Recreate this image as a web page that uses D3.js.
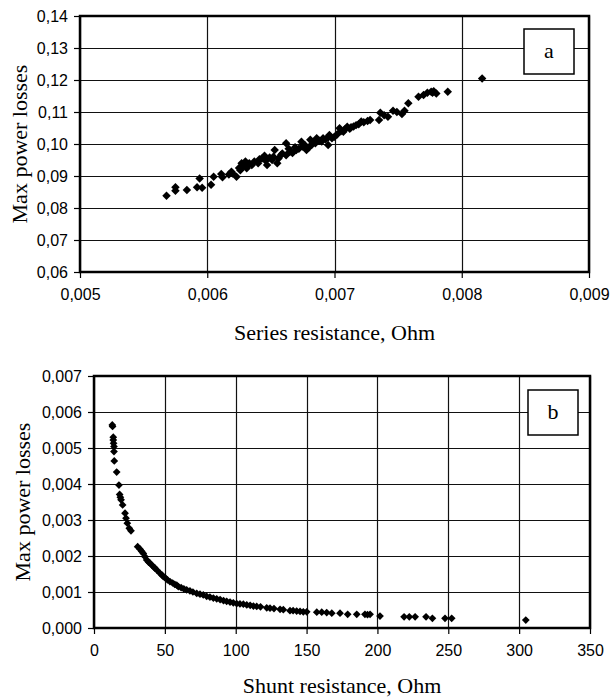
<!DOCTYPE html>
<html>
<head>
<meta charset="utf-8">
<script src="https://cdn.jsdelivr.net/npm/d3@7"></script>
<style>
  body { margin: 0; background: #fff; }
  .tick text { font-family: 'Liberation Sans', Arial, sans-serif; font-size: 16px; fill: #000; }
  .title { font-family: 'Liberation Serif', 'Times New Roman', serif; font-size: 22px; fill: #000; }
</style>
</head>
<body>
<svg id="container" width="611" height="697"></svg>
<script>
// panel a: series resistance vs max power losses
const seriesR = [
  0.00568, 0.00575, 0.00575, 0.00584, 0.00592, 0.00594, 0.00596, 0.00603, 0.00605, 0.00611,
  0.00612, 0.00617, 0.00619, 0.00620, 0.00623, 0.00625, 0.00626, 0.00627, 0.00628, 0.00630,
  0.00631, 0.00632, 0.00633, 0.00635, 0.00637, 0.00640, 0.00641, 0.00643, 0.00645, 0.00646,
  0.00647, 0.00649, 0.00651, 0.00652, 0.00653, 0.00655, 0.00656, 0.00658, 0.00659, 0.00662,
  0.00662, 0.00664, 0.00665, 0.00667, 0.00669, 0.00670, 0.00672, 0.00674, 0.00675, 0.00677,
  0.00678, 0.00680, 0.00681, 0.00682, 0.00683, 0.00685, 0.00686, 0.00688, 0.00690, 0.00691,
  0.00693, 0.00695, 0.00695, 0.00696, 0.00698, 0.00700, 0.00702, 0.00704, 0.00705, 0.00707,
  0.00708, 0.00710, 0.00712, 0.00713, 0.00715, 0.00717, 0.00719, 0.00721, 0.00723, 0.00726,
  0.00728, 0.00735, 0.00736, 0.00739, 0.00742, 0.00746, 0.00749, 0.00753, 0.00755, 0.00758,
  0.00766, 0.00770, 0.00773, 0.00776, 0.00777, 0.00778, 0.00780, 0.00789, 0.00816
]
const seriesLoss = [
  0.0838, 0.0865, 0.0854, 0.0856, 0.0865, 0.0892, 0.0863, 0.0873, 0.0898, 0.0906,
  0.0896, 0.0905, 0.0913, 0.0908, 0.0898, 0.0925, 0.0918, 0.0940, 0.0930, 0.0945,
  0.0924, 0.0934, 0.0940, 0.0934, 0.0945, 0.0940, 0.0952, 0.0955, 0.0963, 0.0948,
  0.0934, 0.0958, 0.0950, 0.0960, 0.0981, 0.0940, 0.0955, 0.0966, 0.0970, 0.1002,
  0.0965, 0.0985, 0.0976, 0.0972, 0.0990, 0.0981, 0.0985, 0.1007, 0.0992, 0.0995,
  0.0981, 0.0990, 0.1013, 0.0997, 0.1005, 0.1002, 0.1018, 0.1010, 0.1008, 0.1018,
  0.1015, 0.0997, 0.1020, 0.1028, 0.1018, 0.1023, 0.1030, 0.1049, 0.1040, 0.1038,
  0.1045, 0.1054, 0.1048, 0.1052, 0.1055, 0.1059, 0.1062, 0.1070, 0.1068, 0.1072,
  0.1075, 0.1075, 0.1098, 0.1090, 0.1085, 0.1104, 0.1100, 0.1094, 0.1104, 0.1127,
  0.1148, 0.1153, 0.1160, 0.1163, 0.1160, 0.1165, 0.1158, 0.1163, 0.1205
]
const seriesXTicks = [0.005, 0.006, 0.007, 0.008, 0.009]
const seriesYTicks = [0.06, 0.07, 0.08, 0.09, 0.10, 0.11, 0.12, 0.13, 0.14]

// panel b: shunt resistance vs max power losses
const shuntR = [
  12.9, 13.1, 13.6, 13.6, 13.8, 14.1, 14.1, 14.3, 16.0, 17.6,
  18.1, 18.6, 19.1, 20.2, 21.9, 22.6, 23.5, 24.9, 26.1, 30.8,
  32.5, 33.6, 34.8, 36.0, 37.2, 38.5, 39.5, 40.7, 42.0, 43.0,
  44.6, 46.6, 48.0, 48.9, 50.1, 51.8, 53.6, 55.5, 57.0, 58.4,
  59.5, 61.5, 63.4, 65.4, 67.7, 69.8, 72.5, 74.8, 77.1, 79.5,
  81.8, 84.2, 86.6, 89.0, 91.4, 93.6, 96.0, 98.3, 100.7, 103.0,
  105.4, 107.8, 110.2, 112.5, 114.8, 117.5, 121.9, 124.2, 127.0, 131.3,
  133.6, 138.3, 140.5, 143.0, 145.4, 147.7, 150.1, 157.2, 160.7, 164.2,
  167.8, 173.6, 179.0, 185.4, 191.2, 193.0, 194.8, 201.8, 218.8, 222.5,
  226.6, 234.3, 238.8, 247.7, 252.4, 304.7
]
const shuntLoss = [
  0.00564, 0.00560, 0.00530, 0.00522, 0.00513, 0.00504, 0.00490, 0.00464, 0.00433, 0.00397,
  0.00371, 0.00363, 0.00356, 0.00342, 0.00319, 0.00305, 0.00291, 0.00277, 0.00270, 0.00226,
  0.00219, 0.00213, 0.00207, 0.00198, 0.00189, 0.00183, 0.00180, 0.00175, 0.00170, 0.00166,
  0.00160, 0.00152, 0.00147, 0.00143, 0.00140, 0.00134, 0.00129, 0.00125, 0.00121, 0.00119,
  0.00115, 0.00112, 0.00109, 0.00106, 0.00103, 0.00100, 0.00096, 0.00094, 0.00092, 0.00088,
  0.00086, 0.00083, 0.00081, 0.00079, 0.00076, 0.00074, 0.00072, 0.00070, 0.00068, 0.00067,
  0.00066, 0.00064, 0.00063, 0.00061, 0.00060, 0.00059, 0.00056, 0.00055, 0.00054, 0.00052,
  0.00051, 0.00048, 0.00048, 0.00047, 0.00046, 0.00045, 0.00045, 0.00044, 0.00044, 0.00043,
  0.00041, 0.00041, 0.00038, 0.00038, 0.00038, 0.00037, 0.00038, 0.00033, 0.00031, 0.00031,
  0.00031, 0.00031, 0.00027, 0.00027, 0.00027, 0.00022
]
const shuntXTicks = [0, 50, 100, 150, 200, 250, 300, 350]
const shuntYTicks = [0, 0.001, 0.002, 0.003, 0.004, 0.005, 0.006, 0.007]

const svg = d3.select('#container')
const comma = (fmt) => (d) => d3.format(fmt)(d).replace('.', ',')

function drawPanel(opts) {
  const { left, right, top, bottom } = opts.box
  const x = d3.scaleLinear().domain(opts.xDomain).range([left, right])
  const y = d3.scaleLinear().domain(opts.yDomain).range([bottom, top])
  const g = svg.append('g')

  // grid
  g.append('g')
    .selectAll('line.vx')
    .data(opts.xTicks)
    .enter()
    .append('line')
    .attr('x1', (d) => Math.round(x(d)) + 0.5)
    .attr('x2', (d) => Math.round(x(d)) + 0.5)
    .attr('y1', top)
    .attr('y2', bottom)
    .attr('stroke', '#111')
    .attr('stroke-width', 1.2)
  g.append('g')
    .selectAll('line.hy')
    .data(opts.yTicks)
    .enter()
    .append('line')
    .attr('x1', left)
    .attr('x2', right)
    .attr('y1', (d) => Math.round(y(d)) + 0.5)
    .attr('y2', (d) => Math.round(y(d)) + 0.5)
    .attr('stroke', '#111')
    .attr('stroke-width', 1.2)

  // axes
  g.append('g')
    .attr('transform', `translate(0,${bottom})`)
    .call(
      d3.axisBottom(x).tickValues(opts.xTicks).tickFormat(opts.xFormat)
        .tickSize(6).tickPadding(opts.xPad).tickSizeOuter(0)
    )
  g.append('g')
    .attr('transform', `translate(${left},0)`)
    .call(
      d3.axisLeft(y).tickValues(opts.yTicks).tickFormat(opts.yFormat)
        .tickSize(6).tickPadding(opts.yPad).tickSizeOuter(0)
    )
  g.selectAll('.domain').remove()
  g.selectAll('.tick line').attr('stroke', '#000').attr('stroke-width', 1.2)

  // frame
  g.append('rect')
    .attr('x', left)
    .attr('y', top)
    .attr('width', right - left)
    .attr('height', bottom - top)
    .attr('fill', 'none')
    .attr('stroke', '#000')
    .attr('stroke-width', 2.5)

  // points
  const diamond = d3.symbol(d3.symbolSquare, opts.markSize)
  g.append('g')
    .selectAll('path')
    .data(opts.xs.map((v, i) => [v, opts.ys[i]]))
    .enter()
    .append('path')
    .attr('d', diamond)
    .attr('transform', (d) => `translate(${x(d[0])},${y(d[1])}) rotate(45)`)
    .attr('fill', '#000')

  // label box
  g.append('rect')
    .attr('x', opts.label.x)
    .attr('y', opts.label.y)
    .attr('width', 50)
    .attr('height', 45)
    .attr('fill', '#fff')
    .attr('stroke', '#000')
    .attr('stroke-width', 1.5)
  g.append('text')
    .attr('class', 'title')
    .attr('x', opts.label.x + 25)
    .attr('y', opts.label.y + 29)
    .attr('text-anchor', 'middle')
    .text(opts.label.text)

  // titles
  g.append('text')
    .attr('class', 'title')
    .attr('x', (left + right) / 2)
    .attr('y', opts.xTitleY)
    .attr('text-anchor', 'middle')
    .text(opts.xTitle)
  g.append('text')
    .attr('class', 'title')
    .attr('transform', `translate(${opts.yTitleX},${(top + bottom) / 2}) rotate(-90)`)
    .attr('text-anchor', 'middle')
    .text('Max power losses')
}

drawPanel({
  box: { left: 80, right: 589, top: 16, bottom: 272 },
  xDomain: [0.005, 0.009],
  yDomain: [0.06, 0.14],
  xTicks: seriesXTicks,
  yTicks: seriesYTicks,
  xFormat: comma('.3f'),
  yFormat: comma('.2f'),
  xPad: 11,
  yPad: 6,
  xs: seriesR,
  ys: seriesLoss,
  markSize: 36,
  label: { x: 524, y: 29, text: 'a' },
  xTitle: 'Series resistance, Ohm',
  xTitleY: 340,
  yTitleX: 27
})

drawPanel({
  box: { left: 94, right: 590, top: 376, bottom: 628 },
  xDomain: [0, 350],
  yDomain: [0, 0.007],
  xTicks: shuntXTicks,
  yTicks: shuntYTicks,
  xFormat: d3.format('d'),
  yFormat: comma('.3f'),
  xPad: 11,
  yPad: 6,
  xs: shuntR,
  ys: shuntLoss,
  markSize: 30,
  label: { x: 528, y: 390, text: 'b' },
  xTitle: 'Shunt resistance, Ohm',
  xTitleY: 693,
  yTitleX: 30
})
</script>
</body>
</html>
